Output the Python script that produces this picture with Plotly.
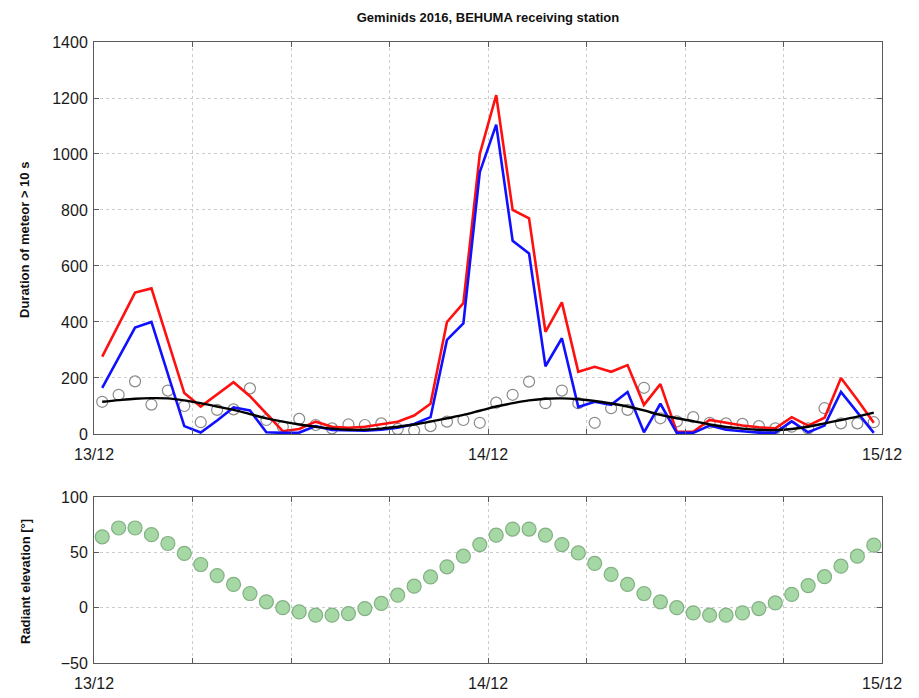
import plotly.graph_objects as go

# Hour of each sample (half-hour centres), measured from 13/12 00:00 UT
hours = [h + 0.5 for h in range(48)]

# Meteor echo duration > 10 s (two detection curves)
red_counts = [276, 392, 505, 520, 333, 146, 98, 140, 185, 135, 72, 10,
              18, 44, 26, 22, 26, 34, 44, 66, 108, 400, 467, 1000,
              1210, 800, 770, 365, 470, 222, 240, 222, 246, 104, 178, 8,
              8, 50, 40, 30, 24, 20, 60, 30, 58, 200, 122, 40]
blue_counts = [165, 275, 380, 400, 210, 28, 5, 48, 95, 84, 6, 4,
               5, 28, 14, 12, 12, 15, 22, 36, 60, 336, 395, 935,
               1105, 690, 645, 242, 342, 96, 115, 104, 150, 6, 108, 4,
               4, 30, 15, 10, 5, 5, 45, 6, 30, 150, 78, 4]
# Background (sporadic) level: open circles and smoothed curve
background = [115, 140, 188, 105, 155, 100, 42, 86, 88, 163, 50, 26,
              54, 32, 20, 34, 32, 38, 18, 12, 28, 44, 50, 40,
              112, 140, 187, 110, 155, 110, 40, 92, 86, 165, 56, 45,
              60, 40, 38, 36, 28, 20, 26, 20, 92, 38, 38, 42]
background_smooth = [115, 121, 126, 128, 127, 120, 110, 98, 86, 71, 56, 44,
                     34, 26, 19, 15, 15, 19, 26, 34, 44, 56, 68, 83,
                     98, 110, 120, 126, 127, 124, 118, 109, 98, 84, 68, 56,
                     46, 34, 25, 19, 15, 14, 18, 26, 38, 50, 62, 76]
# Radiant elevation in degrees
elevation = [64, 72, 72, 66, 58, 49, 39, 29, 21, 12.8, 5.3, 0,
             -3.8, -6.8, -6.8, -5.3, -0.8, 3.8, 11.3, 19.4, 27.8, 36.9, 46.5, 57,
             65.5, 71, 71, 65.5, 57, 49.5, 40, 30, 21, 12.8, 5.3, 0,
             -4.7, -6.8, -6.8, -4.7, -0.8, 4.3, 12, 20, 28, 37.5, 46.5, 56.5]

x_ticks = [0, 6, 12, 18, 24, 30, 36, 42, 48]
x_labels = ["13/12", "", "", "", "14/12", "", "", "", "15/12"]

FONT = "Liberation Sans, Arial, Helvetica, sans-serif"

fig = go.Figure()
fig.add_trace(go.Scatter(x=hours, y=background, mode="markers",
                         marker=dict(symbol="circle-open", size=11,
                                     color="#8a8a8a", line=dict(width=1.2)),
                         xaxis="x", yaxis="y"))
fig.add_trace(go.Scatter(x=hours, y=red_counts, mode="lines",
                         line=dict(color="#ff1010", width=2.6),
                         xaxis="x", yaxis="y"))
fig.add_trace(go.Scatter(x=hours, y=blue_counts, mode="lines",
                         line=dict(color="#1010ff", width=2.6),
                         xaxis="x", yaxis="y"))
fig.add_trace(go.Scatter(x=hours, y=background_smooth, mode="lines",
                         line=dict(color="#000000", width=2.4, shape="spline"),
                         xaxis="x", yaxis="y"))
fig.add_trace(go.Scatter(x=hours, y=elevation, mode="markers",
                         marker=dict(symbol="circle", size=14,
                                     color="#a6d8a6",
                                     line=dict(color="#82b082", width=1.2)),
                         xaxis="x2", yaxis="y2"))

axis_common = dict(showline=True, linecolor="#5a5a5a", linewidth=1,
                   mirror="ticks", ticks="inside", ticklen=5,
                   tickcolor="#5a5a5a", showgrid=True, gridcolor="#cccccc",
                   griddash="dot", gridwidth=1, zeroline=False,
                   automargin=False,
                   tickfont=dict(family=FONT, size=16, color="#1a1a1a"))

fig.update_layout(
    width=919, height=698,
    margin=dict(l=94, r=37, t=42, b=35),
    paper_bgcolor="white", plot_bgcolor="white",
    showlegend=False,
    title=dict(text="<b>Geminids 2016, BEHUMA receiving station</b>",
               x=488 / 919, xanchor="center", y=1 - 17 / 698, yanchor="middle",
               font=dict(family=FONT, size=13, color="#111111")),
    xaxis=dict(domain=[0, 1], range=[0, 48], anchor="y",
               tickvals=x_ticks, ticktext=x_labels, ticklabelstandoff=6,
               **axis_common),
    yaxis=dict(domain=[0.3688, 1], range=[0, 1400], anchor="x",
               tickvals=list(range(0, 1401, 200)), ticklabelstandoff=2,
               **axis_common),
    xaxis2=dict(domain=[0, 1], range=[0, 48], anchor="y2",
                tickvals=x_ticks, ticktext=x_labels, ticklabelstandoff=6,
                **axis_common),
    yaxis2=dict(domain=[0, 0.2673], range=[-50, 100], anchor="x2",
                tickvals=[-50, 0, 50, 100], ticklabelstandoff=2,
                **axis_common),
)

# Axis titles placed to the left of the tick labels
fig.add_annotation(text="<b>Duration of meteor > 10 s</b>", textangle=-90,
                   xref="paper", yref="paper", x=(25 - 94) / 788,
                   y=(663 - 240) / 621, xanchor="center", yanchor="middle",
                   showarrow=False,
                   font=dict(family=FONT, size=13, color="#111111"))
fig.add_annotation(text="<b>Radiant elevation [°]</b>", textangle=-90,
                   xref="paper", yref="paper", x=(25 - 94) / 788,
                   y=(663 - 582) / 621, xanchor="center", yanchor="middle",
                   showarrow=False,
                   font=dict(family=FONT, size=13, color="#111111"))

fig.write_html("out.html")
